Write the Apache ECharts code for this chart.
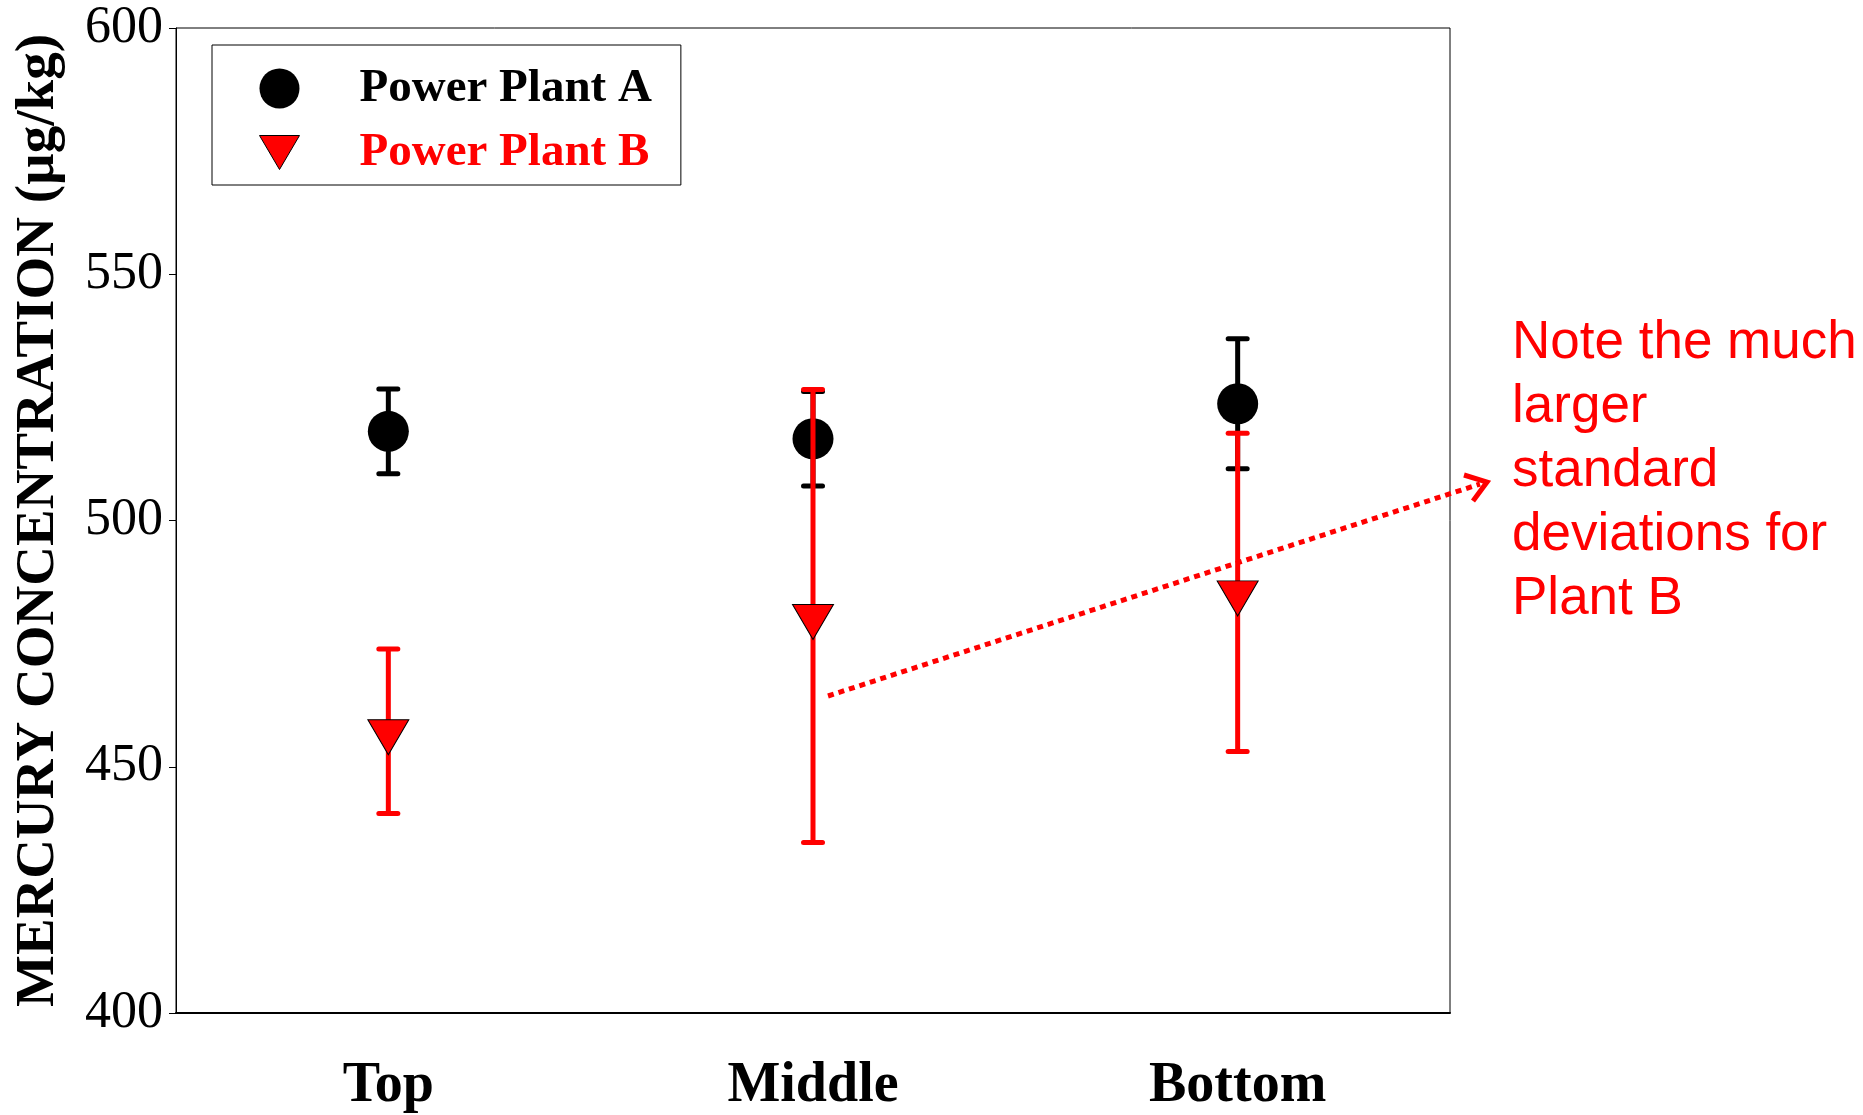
<!DOCTYPE html>
<html>
<head>
<meta charset="utf-8">
<script src="https://cdn.jsdelivr.net/npm/echarts@6/dist/echarts.min.js"></script>
<style>
html,body{margin:0;padding:0;background:#fff;}
#chart{width:1863px;height:1115px;}
</style>
</head>
<body>
<div id="chart"></div>
<script>
// ---- data ----
var categories = ['Top', 'Middle', 'Bottom'];
var meanA = [518.1, 516.6, 523.7];
var sdA   = [8.6, 9.6, 13.2];
var meanB = [457.2, 480.6, 485.4];
var sdB   = [16.7, 46.0, 32.3];
var yTicks = [400, 450, 500, 550, 600];
var seriesNames = ['Power Plant A', 'Power Plant B'];
var noteText = 'Note the much\nlarger\nstandard\ndeviations for\nPlant B';

var SERIF = '"Liberation Serif","Times New Roman",Times,serif';
var SANS = '"Liberation Sans",Arial,Helvetica,sans-serif';
var TRI = 'path://M0,0L40,0L20,34Z';

function errData(mean, sd) {
  return mean.map(function (m, i) { return [i, m - sd[i], m + sd[i]]; });
}
function errRender(color) {
  return function (params, api) {
    var i = api.value(0);
    var lo = api.coord([i, api.value(1)]);
    var hi = api.coord([i, api.value(2)]);
    var hw = 9.5;
    var st = { stroke: color, lineWidth: 5, lineCap: 'round' };
    return {
      type: 'group',
      children: [
        { type: 'line', shape: { x1: hi[0], y1: hi[1], x2: lo[0], y2: lo[1] }, style: { stroke: color, lineWidth: 5 } },
        { type: 'line', shape: { x1: hi[0] - hw, y1: hi[1], x2: hi[0] + hw, y2: hi[1] }, style: st },
        { type: 'line', shape: { x1: lo[0] - hw, y1: lo[1], x2: lo[0] + hw, y2: lo[1] }, style: st }
      ]
    };
  };
}

var chart = echarts.init(document.getElementById('chart'), null, { renderer: 'canvas' });
var option = {
  backgroundColor: '#fff',
  animation: false,
  grid: { left: 176, right: 413, top: 28, bottom: 94, show: true, borderColor: '#000', borderWidth: 1, backgroundColor: 'transparent' },
  legend: {
    orient: 'vertical',
    left: 212, top: 45,
    padding: [20, 29, 9, 47],
    itemWidth: 40, itemHeight: 40, itemGap: 17,
    borderColor: '#000', borderWidth: 1,
    textStyle: { fontFamily: SERIF, fontWeight: 'bold', fontSize: 47, lineHeight: 40, padding: [0, 0, 0, 55] },
    data: [
      { name: seriesNames[0], icon: 'circle', itemStyle: { color: '#000', borderWidth: 0 }, textStyle: { color: '#000' } },
      { name: seriesNames[1], icon: TRI, itemStyle: { color: '#ff0000', borderColor: '#000', borderWidth: 1 }, textStyle: { color: '#ff0000' } }
    ]
  },
  xAxis: {
    type: 'category',
    data: categories,
    boundaryGap: true,
    axisLine: { lineStyle: { color: '#000', width: 2 } },
    axisTick: { alignWithLabel: true, length: 7, lineStyle: { color: '#000', width: 1 } },
    axisLabel: { margin: 46, color: '#000', fontFamily: SERIF, fontWeight: 'bold', fontSize: 56 },
    splitLine: { show: false }
  },
  yAxis: {
    type: 'value',
    min: yTicks[0], max: yTicks[yTicks.length - 1], interval: 50,
    name: 'MERCURY CONCENTRATION (µg/kg)',
    nameLocation: 'middle', nameGap: 110, nameRotate: 90,
    nameTextStyle: { color: '#000', fontFamily: SERIF, fontWeight: 'bold', fontSize: 55 },
    axisLine: { show: true, lineStyle: { color: '#000', width: 1 } },
    axisTick: { show: true, length: 7, lineStyle: { color: '#000', width: 1 } },
    axisLabel: { margin: 13, color: '#000', fontFamily: SERIF, fontSize: 52 },
    splitLine: { show: false }
  },
  series: [
    { name: 'errA', type: 'custom', z: 2, renderItem: errRender('#000'), encode: { x: 0, y: [1, 2] }, data: errData(meanA, sdA) },
    { name: seriesNames[0], type: 'scatter', z: 3, symbol: 'circle', symbolSize: 41, itemStyle: { color: '#000', opacity: 1 }, data: meanA },
    { name: 'errB', type: 'custom', z: 4, renderItem: errRender('#ff0000'), encode: { x: 0, y: [1, 2] }, data: errData(meanB, sdB) },
    { name: seriesNames[1], type: 'scatter', z: 5, symbol: TRI, symbolSize: [41, 35], symbolOffset: [0, 6], itemStyle: { color: '#ff0000', borderColor: '#000', borderWidth: 1, opacity: 1 }, data: meanB }
  ],
  graphic: [
    { type: 'polyline', z: 10, shape: { points: [[828, 696], [1480, 484]] }, style: { stroke: '#ff0000', lineWidth: 5, lineDash: [6, 5], fill: null } },
    { type: 'polyline', z: 10, shape: { points: [[1464, 475], [1487, 482], [1473, 501]] }, style: { stroke: '#ff0000', lineWidth: 5, fill: null } },
    { type: 'text', z: 10, left: 1512, top: 311, style: { text: noteText, fill: '#ff0000', font: '53px ' + SANS, lineHeight: 64 } }
  ]
};
chart.setOption(option);
</script>
</body>
</html>
